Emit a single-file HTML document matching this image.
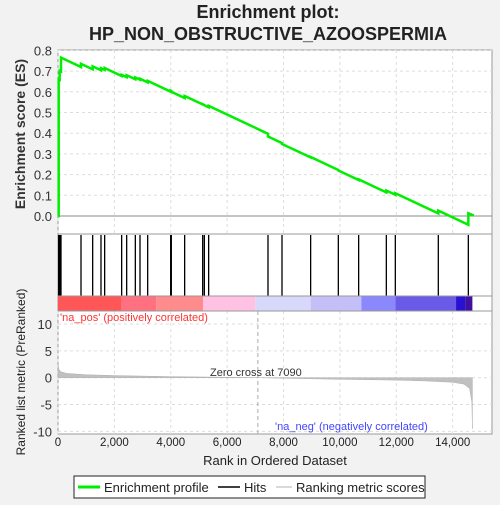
<!DOCTYPE html>
<html><head><meta charset="utf-8"><style>
body{margin:0;background:#f2f2f2;width:500px;height:500px;overflow:hidden;font-family:"Liberation Sans",sans-serif}
</style></head><body>
<svg id="c" width="500" height="500" xmlns="http://www.w3.org/2000/svg" font-family="Liberation Sans, sans-serif">
<text x="268" y="18" font-size="18" font-weight="bold" text-anchor="middle" fill="#222">Enrichment plot:</text>
<text x="268" y="40" font-size="18" font-weight="bold" text-anchor="middle" fill="#222">HP_NON_OBSTRUCTIVE_AZOOSPERMIA</text>
<rect x="58" y="50" width="434" height="384" fill="#fff" stroke="#999"/>
<g id="grid"></g>
<g id="bar"></g>
<g id="metric"></g>
<g id="hits"></g>
<g id="es"></g>
<g id="axes"></g>
<text x="210" y="376" font-size="11" fill="#333">Zero cross at 7090</text>
<text x="60" y="321" font-size="11" fill="#ff3333">'na_pos' (positively correlated)</text>
<text x="275" y="430" font-size="11" fill="#4444ff">'na_neg' (negatively correlated)</text>
<text transform="translate(25,134) rotate(-90)" font-size="14" font-weight="bold" fill="#333" text-anchor="middle">Enrichment score (ES)</text>
<text transform="translate(25,372) rotate(-90)" font-size="12" fill="#222" text-anchor="middle">Ranked list metric (PreRanked)</text>
<text x="275" y="465" font-size="13" fill="#222" text-anchor="middle">Rank in Ordered Dataset</text>
<g>
<rect x="74" y="476" width="351" height="22" fill="#fff" stroke="#222"/>
<line x1="78" y1="487" x2="100" y2="487" stroke="#00ee00" stroke-width="3"/>
<text x="104" y="492" font-size="13" fill="#222">Enrichment profile</text>
<line x1="218" y1="487" x2="240" y2="487" stroke="#000" stroke-width="1.5"/>
<text x="244" y="492" font-size="13" fill="#222">Hits</text>
<line x1="276" y1="487" x2="292" y2="487" stroke="#ccc" stroke-width="1.5"/>
<text x="296" y="492" font-size="13" fill="#222">Ranking metric scores</text>
</g>
</svg>
<script>
const hitRanks=[24,59,83,106,816,1230,1525,1655,2258,2436,2743,2909,3181,3997,4020,4493,5132,5191,5344,7449,7946,8962,9944,10665,11647,11966,13491,14556];
const esPeaks=[0.66,0.70,0.70,0.765,0.735,0.723,0.714,0.715,0.682,0.68,0.669,0.663,0.653,0.606,0.60,0.58,0.54,0.535,0.532,0.384,0.348,0.285,0.22,0.177,0.123,0.11,0.026,0.013];
const esEnd=[14750,0.002];
const metricRanks=[0,30,100,300,1000,2000,4000,6000,7090,8000,10000,12000,13000,14000,14400,14600,14680,14700];
const metricVals=[2.5,1.6,1.1,0.8,0.55,0.4,0.2,0.08,0,-0.1,-0.3,-0.45,-0.6,-0.85,-1.2,-2.0,-4.5,-9.5];
const esTicks=[0,0.1,0.2,0.3,0.4,0.5,0.6,0.7,0.8];
const metricTicks=[10,5,0,-5,-10];
const rankTicks=[0,2000,4000,6000,8000,10000,12000,14000];
const barSegs=[[0,2258,'#ff5757'],[2258,3480,'#ff7080'],[3480,5150,'#ff8c8c'],[5150,7000,'#ffc2e2'],[7000,8962,'#d8d8fb'],[8962,10760,'#c4c0f7'],[10760,11966,'#8a88fc'],[11966,14120,'#6a5ae8'],[14120,14450,'#2a10d0'],[14450,14700,'#4010a0']];
const X=r=>58+r*0.02819, YE=v=>216-v*207, YM=v=>377.7-v*5.37;
const NS='http://www.w3.org/2000/svg';
function mk(p,t,a){const e=document.createElementNS(NS,t);for(const k in a)e.setAttribute(k,a[k]);document.getElementById(p).appendChild(e);return e;}
esTicks.forEach(v=>{const y=YE(v);
 const l=mk('grid','line',{x1:58,x2:492,y1:y,y2:y,stroke:v===0?'#888':'#ddd','stroke-dasharray':v===0?'':'3,3'});
 
 
 const t=mk('axes','text',{x:52,y:y+5,'font-size':13,fill:'#333','text-anchor':'end'});t.textContent=v.toFixed(1);
 
 });
rankTicks.forEach(r=>{const x=X(r);
 const l=mk('grid','line',{x1:x,x2:x,y1:50,y2:234,stroke:'#ddd','stroke-dasharray':'3,3'});
 
 
 const l2=mk('grid','line',{x1:x,x2:x,y1:311,y2:434,stroke:'#ddd','stroke-dasharray':'3,3'});
 
 
 const t=mk('axes','text',{x:x,y:446,'font-size':11.5,fill:'#222','text-anchor':'middle'});t.textContent=r.toLocaleString('en-US');
 
 });
metricTicks.forEach(v=>{const y=YM(v);
 const l=mk('grid','line',{x1:58,x2:492,y1:y,y2:y,stroke:'#ddd','stroke-dasharray':'3,3'});
 
 
 const t=mk('axes','text',{x:52,y:y+5,'font-size':13,fill:'#333','text-anchor':'end'});t.textContent=v;
 
 });
[234,296,311].forEach(y=>{const l=mk('axes','line',{x1:58,x2:492,y1:y,y2:y,stroke:'#999'});
 
 });
const zl=mk('axes','line',{x1:X(7090),x2:X(7090),y1:311,y2:434,stroke:'#aaa','stroke-dasharray':'4,3'});


barSegs.forEach(s=>{const r=mk('bar','rect',{x:X(s[0]),y:296,width:X(s[1])-X(s[0]),height:15,fill:s[2]});
 
 });
let d='M'+X(0)+','+YM(0);
metricRanks.forEach((r,i)=>{d+=' L'+X(r)+','+YM(metricVals[i]);});
d+=' L'+X(metricRanks[metricRanks.length-1])+','+YM(0)+'Z';
const mp=mk('metric','path',{d:d,fill:'#c0c0c0',stroke:'#b0b0b0','stroke-width':0.5});


hitRanks.forEach(r=>{const l=mk('hits','line',{x1:X(r),x2:X(r),y1:235,y2:296,stroke:'#000','stroke-width':1.3});
 
 });
const slope=6.4e-5;
let pts=[[0,0]],prevR=0,prevV=0;
hitRanks.forEach((r,i)=>{const before=i===0?0:prevV-slope*(r-prevR);pts.push([r,before]);pts.push([r,esPeaks[i]]);prevR=r;prevV=esPeaks[i];});
pts.push(esEnd);
const pl=mk('es','polyline',{points:pts.map(p=>X(p[0])+','+YE(p[1])).join(' '),fill:'none',stroke:'#00ee00','stroke-width':2.5});


</script>
</body></html>
